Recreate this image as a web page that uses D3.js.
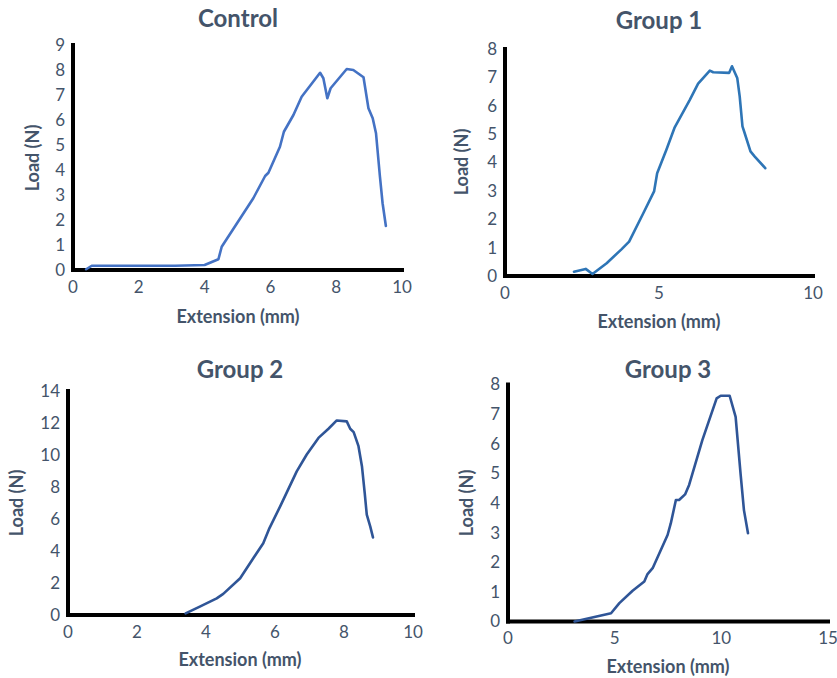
<!DOCTYPE html>
<html>
<head>
<meta charset="utf-8"/>
<script src="https://cdn.jsdelivr.net/npm/d3@7"></script>
<title>Load vs Extension</title>
<style>
body { margin: 0; background: #fff; }
svg { display: block; }
text { font-family: Lato, "Open Sans", sans-serif; fill: #44546A; }
</style>
</head>
<body>
<script>
// data: extension (mm) and load (N)
var controlX = [0.40, 0.57, 1.5, 3.1, 4.0, 4.42, 4.52, 5.48, 5.84, 5.94, 6.29, 6.41, 6.70, 6.95, 7.51, 7.61, 7.73, 7.83, 8.32, 8.52, 8.83, 8.98, 9.11, 9.21, 9.33, 9.41, 9.51];
var controlY = [0.03, 0.17, 0.17, 0.17, 0.20, 0.43, 0.93, 2.87, 3.76, 3.89, 4.93, 5.53, 6.20, 6.93, 7.89, 7.67, 6.87, 7.27, 8.04, 8.00, 7.71, 6.47, 6.07, 5.47, 3.73, 2.67, 1.76];

var group1X = [2.24, 2.62, 2.84, 3.30, 3.78, 4.03, 4.49, 4.84, 4.94, 5.24, 5.51, 6.00, 6.27, 6.65, 6.76, 7.28, 7.37, 7.54, 7.62, 7.71, 7.78, 7.97, 8.11, 8.45];
var group1Y = [0.15, 0.25, 0.07, 0.45, 0.94, 1.21, 2.21, 2.98, 3.62, 4.45, 5.24, 6.21, 6.78, 7.24, 7.18, 7.16, 7.39, 6.98, 6.33, 5.27, 5.04, 4.39, 4.21, 3.80];

var group2X = [3.41, 3.82, 4.31, 4.50, 4.99, 5.37, 5.66, 5.84, 6.15, 6.63, 6.92, 7.26, 7.55, 7.79, 8.08, 8.18, 8.28, 8.42, 8.52, 8.60, 8.66, 8.76, 8.84];
var group2Y = [0.10, 0.52, 1.04, 1.32, 2.30, 3.55, 4.49, 5.43, 6.79, 8.98, 10.03, 11.07, 11.64, 12.16, 12.10, 11.64, 11.43, 10.55, 9.30, 7.63, 6.27, 5.54, 4.85];

var group3X = [3.12, 4.83, 5.22, 5.84, 6.39, 6.54, 6.78, 7.48, 7.63, 7.87, 8.02, 8.30, 8.49, 9.11, 9.78, 9.97, 10.39, 10.67, 10.90, 11.06, 11.25];
var group3Y = [0.00, 0.28, 0.62, 1.04, 1.35, 1.60, 1.80, 2.92, 3.31, 4.10, 4.10, 4.29, 4.61, 6.12, 7.53, 7.62, 7.62, 6.91, 5.00, 3.76, 2.98];

var controlYTicks = [0, 1, 2, 3, 4, 5, 6, 7, 8, 9];
var controlXTicks = [0, 2, 4, 6, 8, 10];
var group1YTicks = [0, 1, 2, 3, 4, 5, 6, 7, 8];
var group1XTicks = [0, 5, 10];
var group2YTicks = [0, 2, 4, 6, 8, 10, 12, 14];
var group2XTicks = [0, 2, 4, 6, 8, 10];
var group3YTicks = [0, 1, 2, 3, 4, 5, 6, 7, 8];
var group3XTicks = [0, 5, 10, 15];

var svg = d3.select("body").append("svg")
  .attr("width", 837)
  .attr("height", 678);

// one panel: pixel box of the plot, domains, and label spots
function panel(p) {
  var x = d3.scaleLinear().domain([0, p.xMax]).range([p.left, p.right]);
  var y = d3.scaleLinear().domain([0, p.yMax]).range([p.bottom, p.top]);
  var g = svg.append("g");

  // y tick labels
  g.selectAll(".yt").data(p.yTicks).enter().append("text")
    .attr("x", p.left - 8)
    .attr("y", function(d) { return y(d); })
    .attr("dy", "0.35em")
    .attr("text-anchor", "end")
    .style("font-size", "17px")
    .text(function(d) { return d; });

  // x tick labels
  g.selectAll(".xt").data(p.xTicks).enter().append("text")
    .attr("x", function(d) { return x(d); })
    .attr("y", p.bottom + 17)
    .attr("dy", "0.35em")
    .attr("text-anchor", "middle")
    .style("font-size", "17px")
    .text(function(d) { return d; });

  // thick black axes
  g.append("line")
    .attr("x1", p.left).attr("x2", p.left)
    .attr("y1", p.top - 2).attr("y2", p.bottom + 2)
    .attr("stroke", "#000").attr("stroke-width", 4);
  g.append("line")
    .attr("x1", p.left - 2).attr("x2", p.right + 2)
    .attr("y1", p.bottom).attr("y2", p.bottom)
    .attr("stroke", "#000").attr("stroke-width", 4);

  var pts = p.xs.map(function(v, i) { return [v, p.ys[i]]; });
  var line = d3.line()
    .x(function(d) { return x(d[0]); })
    .y(function(d) { return y(d[1]); });
  g.append("path")
    .attr("d", line(pts))
    .attr("fill", "none")
    .attr("stroke", p.color)
    .attr("stroke-width", 2.6)
    .attr("stroke-linejoin", "round")
    .attr("stroke-linecap", "round");

  // titles
  g.append("text")
    .attr("x", p.titleX).attr("y", p.titleY)
    .attr("text-anchor", "middle")
    .style("font-size", "24px").style("font-weight", "bold")
    .text(p.title);
  g.append("text")
    .attr("x", p.titleX).attr("y", p.xLabelY)
    .attr("text-anchor", "middle")
    .style("font-size", "18px").style("font-weight", "bold")
    .text(p.xLabel);
  g.append("text")
    .attr("transform", "translate(" + p.yLabelX + "," + p.yLabelY + ") rotate(-90)")
    .attr("text-anchor", "middle")
    .style("font-size", "18px").style("font-weight", "bold")
    .text("Load (N)");
}

panel({ title: "Control", xs: controlX, ys: controlY, color: "#4472C4",
  xMax: 10, yMax: 9, left: 73, right: 402, top: 45, bottom: 270,
  xTicks: controlXTicks, yTicks: controlYTicks,
  titleX: 238, titleY: 27, xLabel: "Extension (mm)", xLabelY: 323, yLabelX: 39, yLabelY: 158 });

panel({ title: "Group 1", xs: group1X, ys: group1Y, color: "#2E75B6",
  xMax: 10, yMax: 8, left: 505, right: 813, top: 49, bottom: 276,
  xTicks: group1XTicks, yTicks: group1YTicks,
  titleX: 659, titleY: 29, xLabel: "Extension (mm)", xLabelY: 328, yLabelX: 468, yLabelY: 162 });

panel({ title: "Group 2", xs: group2X, ys: group2Y, color: "#2F5597",
  xMax: 10, yMax: 14, left: 68, right: 413, top: 391, bottom: 615,
  xTicks: group2XTicks, yTicks: group2YTicks,
  titleX: 240, titleY: 378, xLabel: "Extension (mm)", xLabelY: 666, yLabelX: 23, yLabelY: 503 });

panel({ title: "Group 3", xs: group3X, ys: group3Y, color: "#2F5597",
  xMax: 15, yMax: 8, left: 508, right: 828, top: 384.5, bottom: 621.5,
  xTicks: group3XTicks, yTicks: group3YTicks,
  titleX: 668, titleY: 378, xLabel: "Extension  (mm)", xLabelY: 673, yLabelX: 473, yLabelY: 503 });
</script>
</body>
</html>
